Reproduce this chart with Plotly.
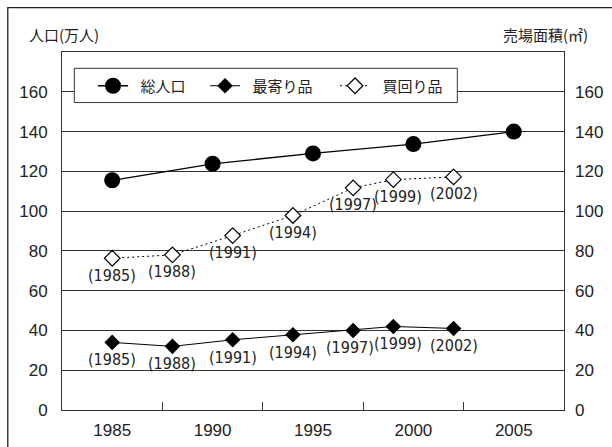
import plotly.graph_objects as go

# ---- data ----
pop_years = [1985, 1990, 1995, 2000, 2005]
pop_values = [115.5, 123.8, 129.0, 133.7, 140.0]

shop_years = [1985, 1988, 1991, 1994, 1997, 1999, 2002]
mogori_values = [34.0, 32.0, 35.3, 37.8, 40.0, 42.0, 41.0]
kaimawari_values = [76.3, 78.0, 87.7, 97.8, 111.7, 115.8, 117.2]
shop_labels = ["(1985)", "(1988)", "(1991)", "(1994)", "(1997)", "(1999)", "(2002)"]

series_names = ["総人口", "最寄り品", "買回り品"]
x_tick_years = [1985, 1990, 1995, 2000, 2005]
x_sep_ticks = [1987.5, 1992.5, 1997.5, 2002.5]
y_ticks = [0, 20, 40, 60, 80, 100, 120, 140, 160]
y_title_left = "人口(万人)"
y_title_right = "売場面積(㎡)"

# ---- style ----
AX = "#333333"
TXT = "#222222"
NUM_FONT = "Liberation Sans, Arial, sans-serif"
LBL_FONT = "Liberation Sans Narrow, Arial Narrow, DejaVu Sans Condensed, sans-serif"
JP_FONT = "Noto Sans CJK JP, sans-serif"
# small horizontal nudges of the year labels (px), keyed by year
label_nudge_mogori = {1997: -3, 1999: 5}
label_nudge_kaimawari = {1999: 5}

fig = go.Figure()

fig.add_trace(go.Scatter(
    x=pop_years, y=pop_values, name="\u2002" + series_names[0],
    mode="lines+markers",
    line=dict(color="black", width=1.3),
    marker=dict(symbol="circle", size=16, color="black"),
    legendwidth=67,
    yaxis="y",
))

fig.add_trace(go.Scatter(
    x=shop_years, y=mogori_values, name="\u2002" + series_names[1],
    mode="lines+markers",
    line=dict(color="black", width=1),
    marker=dict(symbol="diamond", size=12, color="black"),
    legendwidth=85,
    yaxis="y2",
))

fig.add_trace(go.Scatter(
    x=shop_years, y=kaimawari_values, name="\u2002" + series_names[2],
    mode="lines+markers",
    line=dict(color="black", width=1, dash="2px,3px"),
    marker=dict(symbol="diamond", size=12, color="white",
                line=dict(color="black", width=1.2)),
    yaxis="y2",
))

annotations = []
for yr, val, lab in zip(shop_years, mogori_values, shop_labels):
    annotations.append(dict(
        x=yr, y=val, xref="x", yref="y2", text=lab, showarrow=False,
        xanchor="center", yanchor="middle", yshift=-17.5,
        xshift=label_nudge_mogori.get(yr, 0),
        font=dict(family=LBL_FONT, size=16, color=TXT)))
for yr, val, lab in zip(shop_years, kaimawari_values, shop_labels):
    annotations.append(dict(
        x=yr, y=val, xref="x", yref="y2", text=lab, showarrow=False,
        xanchor="center", yanchor="middle", yshift=-17,
        xshift=label_nudge_kaimawari.get(yr, 0),
        font=dict(family=LBL_FONT, size=16, color=TXT)))

annotations += [
    dict(text=y_title_left, xref="paper", yref="paper",
         x=-0.069, y=1.050, xanchor="left", yanchor="middle",
         showarrow=False, font=dict(family=JP_FONT, size=15, color=TXT)),
    dict(text=y_title_right, xref="paper", yref="paper",
         x=1.052, y=1.050, xanchor="right", yanchor="middle",
         showarrow=False, font=dict(family=JP_FONT, size=15, color=TXT)),
]

yrange = [0, 180]

fig.update_layout(
    template="none",
    width=612, height=447,
    margin=dict(l=62, r=48, t=52, b=37, pad=0),
    paper_bgcolor="white", plot_bgcolor="white",
    showlegend=True,
    legend=dict(
        orientation="h",
        x=0.0618, xanchor="left",
        y=0.9511, yanchor="top",
        bgcolor="rgba(0,0,0,0)", borderwidth=0,
        font=dict(family=JP_FONT, size=15, color=TXT),
    ),
    xaxis=dict(
        range=[1982.5, 2007.5], automargin=False,
        tickmode="array", tickvals=x_tick_years,
        ticks="", showgrid=False, zeroline=False,
        showline=True, mirror=True, linecolor=AX, linewidth=1,
        tickfont=dict(family=NUM_FONT, size=17, color=TXT),
        ticklabelstandoff=5,
        minor=dict(tickmode="array", tickvals=x_sep_ticks, ticks="inside",
                   ticklen=8, tickcolor=AX, tickwidth=1, showgrid=False),
    ),
    yaxis=dict(
        range=yrange, automargin=False,
        tickmode="array", tickvals=y_ticks,
        ticks="", showgrid=True, gridcolor=AX, gridwidth=1,
        zeroline=False,
        showline=True, mirror=True, linecolor=AX, linewidth=1,
        tickfont=dict(family=NUM_FONT, size=17, color=TXT),
        ticklabelstandoff=10,
    ),
    yaxis2=dict(
        range=yrange, overlaying="y", side="right", automargin=False,
        tickmode="array", tickvals=y_ticks,
        ticks="", showgrid=False, zeroline=False, showline=False,
        tickfont=dict(family=NUM_FONT, size=17, color=TXT),
        ticklabelstandoff=10,
    ),
    annotations=annotations,
    shapes=[
        # outer frame of the figure (right and bottom edges fall outside the view)
        dict(type="rect", xref="paper", yref="paper",
             x0=-0.108, x1=1.15, y0=-0.15, y1=1.124,
             line=dict(color="#222222", width=1.3),
             fillcolor="rgba(0,0,0,0)", layer="below"),
        # legend box
        dict(type="rect", xref="paper", yref="paper",
             x0=0.0245, x1=0.7875, y0=0.8588, y1=0.9544,
             line=dict(color=AX, width=1), fillcolor="white", layer="above"),
    ],
)

fig.write_html("out.html")
